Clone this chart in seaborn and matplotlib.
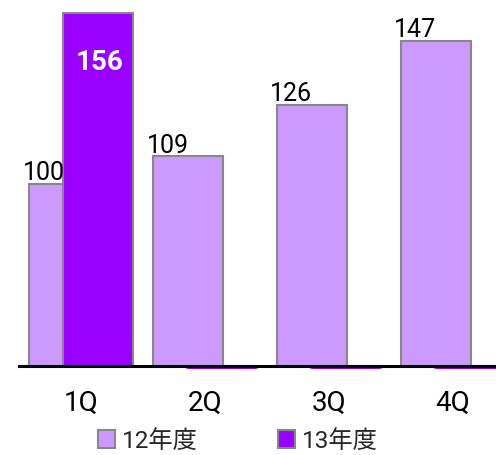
import matplotlib
matplotlib.use("Agg")
import matplotlib.pyplot as plt
import seaborn as sns
import pandas as pd

quarters = ["1Q", "2Q", "3Q", "4Q"]
fy12 = [100, 109, 126, 147]
fy13 = [156, 0, 0, 0]
series_names = ["12年度", "13年度"]
colors = ["#CC99FF", "#9900FF"]

df = pd.DataFrame({
    "quarter": quarters * 2,
    "value": fy12 + fy13,
    "series": [series_names[0]] * len(quarters) + [series_names[1]] * len(quarters),
})

sns.set_theme(style="white")
plt.rcParams["font.family"] = ["Roboto", "Noto Sans CJK JP"]

base = 40
ymin, ymax = 39.0, 160.4
px_per_unit = 3.04
bottom_px = 366 + (base - ymin) * px_per_unit
fig = plt.figure(figsize=(4.96, 4.55), dpi=100)
ax = fig.add_axes([19 / 496, (455 - bottom_px) / 455, 1.0, bottom_px / 455])

sns.barplot(data=df, x="quarter", y="value", hue="series", palette=colors,
            order=quarters, hue_order=series_names, width=0.548,
            edgecolor="#888888", linewidth=1.5, saturation=1,
            errorbar=None, ax=ax)

bar_w = 0.565
for cont in ax.containers:
    for p in cont.patches:
        cx = p.get_x() + p.get_width() / 2
        top = p.get_y() + p.get_height()
        p.set_x(cx - bar_w / 2)
        p.set_width(bar_w)
        p.set_y(base)
        p.set_height(top - base)

ax.set_ylim(ymin, ymax)
ax.set_xlim(-0.5, 3.5)
for s in ["left", "top", "right"]:
    ax.spines[s].set_visible(False)
ax.spines["bottom"].set_position(("data", base))
ax.spines["bottom"].set_linewidth(2.2)
ax.spines["bottom"].set_color("black")
ax.spines["bottom"].set_zorder(5)
ax.set_yticks([])
ax.set_xlabel("")
ax.set_ylabel("")
ax.tick_params(axis="x", length=0, pad=17, labelsize=20, labelcolor="black")

for i, v in enumerate(fy12):
    ax.annotate(str(v), xy=(i, v), xytext=(-27, 2.6), textcoords="offset points",
                ha="center", va="baseline", fontsize=18, color="black")

for i, v in enumerate(fy13):
    if v > 0:
        ax.annotate(str(v), xy=(i, v), xytext=(13.3, -40.5), textcoords="offset points",
                    ha="center", va="baseline", fontsize=20, fontweight="bold",
                    color="white")

sns.move_legend(ax, "center", bbox_to_anchor=(238 / 496, 1 - 441 / 455),
                bbox_transform=fig.transFigure, ncol=2, frameon=False, title="",
                fontsize=17.5, handlelength=0.7, handleheight=0.7,
                handletextpad=0.3, columnspacing=3.3)

fig.savefig("out.png", dpi=100)
